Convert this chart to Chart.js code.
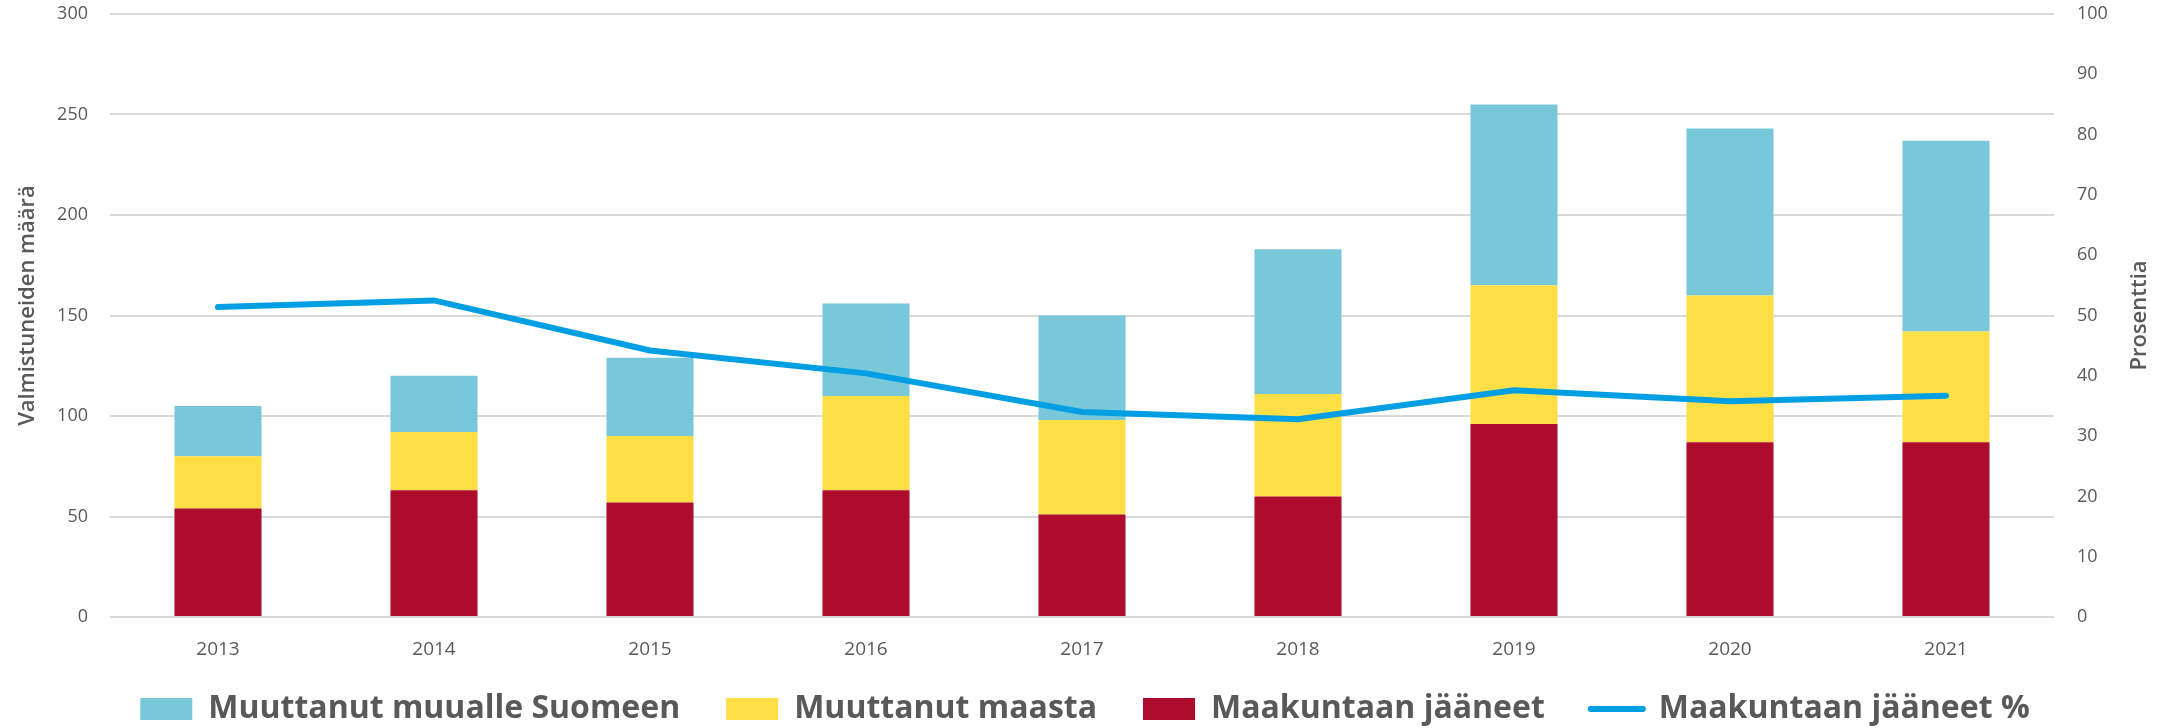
<!DOCTYPE html>
<html>
<head>
<meta charset="utf-8">
<script src="https://cdn.jsdelivr.net/npm/chart.js@4"></script>
<style>
  html, body { margin: 0; padding: 0; background: #ffffff; }
  #wrap { width: 2170px; height: 728px; }
</style>
</head>
<body>
<div id="wrap"><canvas id="c" width="2170" height="728"></canvas></div>
<script>
const years = ['2013', '2014', '2015', '2016', '2017', '2018', '2019', '2020', '2021'];
const maakuntaanJaaneet = [54, 63, 57, 63, 51, 60, 96, 87, 87];
const muuttanutMaasta = [26, 29, 33, 47, 47, 51, 69, 73, 55];
const muuttanutMuualle = [25, 28, 39, 46, 52, 72, 90, 83, 95];
const jaaneetProsentti = [51.4, 52.5, 44.2, 40.4, 34.0, 32.8, 37.6, 35.8, 36.7];
const leftTicks = [0, 50, 100, 150, 200, 250, 300];
const rightTicks = [0, 10, 20, 30, 40, 50, 60, 70, 80, 90, 100];

const labelNames = {
  muualle: 'Muuttanut muualle Suomeen',
  maasta: 'Muuttanut maasta',
  jaaneet: 'Maakuntaan jääneet',
  pros: 'Maakuntaan jääneet %'
};
const leftTitle = 'Valmistuneiden määrä';
const rightTitle = 'Prosenttia';

const textColor = '#595959';
const gridColor = '#D9D9D9';
const legendFontSize = 32;
const legendPadding = 46;

const axisTitles = {
  id: 'axisTitles',
  afterLayout(chart) {
    const lg = chart.legend;
    if (lg) {
      const h = lg.height;
      lg.top = 709 - legendPadding - legendFontSize / 2;
      lg.bottom = lg.top + h;
    }
  },
  afterDraw(chart) {
    const ctx = chart.ctx;
    const area = chart.chartArea;
    const cy = (area.top + area.bottom) / 2;
    ctx.save();
    ctx.fillStyle = textColor;
    ctx.font = '600 22px "Open Sans"';
    ctx.textAlign = 'center';
    ctx.textBaseline = 'middle';
    ctx.translate(28, cy - 10);
    ctx.rotate(-Math.PI / 2);
    ctx.fillText(leftTitle, 0, 0);
    ctx.restore();
    ctx.save();
    ctx.fillStyle = textColor;
    ctx.font = '600 22px "Open Sans"';
    ctx.textAlign = 'center';
    ctx.textBaseline = 'middle';
    ctx.translate(2140, cy);
    ctx.rotate(-Math.PI / 2);
    ctx.fillText(rightTitle, 0, 0);
    ctx.restore();
  }
};

const order = [2, 1, 0, 3];

new Chart(document.getElementById('c'), {
  data: {
    labels: years,
    datasets: [
      { type: 'bar', label: labelNames.jaaneet, data: maakuntaanJaaneet, backgroundColor: '#AE0C2C', yAxisID: 'y', stack: 's', pointStyle: 'rect', barPercentage: 0.403, categoryPercentage: 1.0, order: 1 },
      { type: 'bar', label: labelNames.maasta, data: muuttanutMaasta, backgroundColor: '#FFDF46', yAxisID: 'y', stack: 's', pointStyle: 'rect', barPercentage: 0.403, categoryPercentage: 1.0, order: 1 },
      { type: 'bar', label: labelNames.muualle, data: muuttanutMuualle, backgroundColor: '#78C8DA', yAxisID: 'y', stack: 's', pointStyle: 'rect', barPercentage: 0.403, categoryPercentage: 1.0, order: 1 },
      { type: 'line', label: labelNames.pros, data: jaaneetProsentti, borderColor: '#009FE3', backgroundColor: '#009FE3', borderWidth: 6, pointRadius: 0, pointStyle: 'line', tension: 0, yAxisID: 'y1', borderCapStyle: 'round', borderJoinStyle: 'miter', order: 0 }
    ]
  },
  options: {
    responsive: false,
    animation: false,
    devicePixelRatio: 1,
    layout: { padding: { top: 14, bottom: -27, left: 0, right: 0 } },
    plugins: {
      tooltip: { enabled: false },
      legend: {
        position: 'bottom',
        align: 'center',
        labels: {
          usePointStyle: true,
          pointStyleWidth: 52,
          boxHeight: 22,
          padding: legendPadding,
          color: textColor,
          font: { family: '"Open Sans"', size: legendFontSize, weight: '700' },
          sort: (a, b) => order[a.datasetIndex] - order[b.datasetIndex],
          generateLabels(chart) {
            const items = Chart.defaults.plugins.legend.labels.generateLabels(chart);
            items.forEach(it => {
              if (it.datasetIndex === 3) {
                it.pointStyle = 'line';
                it.lineWidth = 6;
                it.lineCap = 'round';
                it.strokeStyle = '#009FE3';
              } else {
                it.pointStyle = 'rect';
                it.lineWidth = 0;
              }
            });
            return items;
          }
        }
      }
    },
    scales: {
      x: {
        stacked: true,
        grid: { display: false },
        border: { display: false },
        ticks: { color: textColor, font: { family: '"Open Sans"', size: 19 }, padding: 13, maxRotation: 0, autoSkip: false },
        afterFit(scale) { scale.height = 50; scale.paddingLeft = 0; scale.paddingRight = 0; }
      },
      y: {
        position: 'left',
        stacked: true,
        min: leftTicks[0],
        max: leftTicks[leftTicks.length - 1],
        grid: { color: gridColor, lineWidth: 2, drawTicks: false },
        border: { display: false },
        afterBuildTicks(scale) { scale.ticks = leftTicks.map(v => ({ value: v })); },
        ticks: { color: textColor, font: { family: '"Open Sans"', size: 18 }, padding: 22 },
        afterFit(scale) { scale.width = 110; scale.paddingTop = 0; scale.paddingBottom = 0; }
      },
      y1: {
        position: 'right',
        min: rightTicks[0],
        max: rightTicks[rightTicks.length - 1],
        grid: { display: false, drawTicks: false },
        border: { display: false },
        afterBuildTicks(scale) { scale.ticks = rightTicks.map(v => ({ value: v })); },
        ticks: { color: textColor, font: { family: '"Open Sans"', size: 18 }, padding: 23 },
        afterFit(scale) { scale.width = 116; scale.paddingTop = 0; scale.paddingBottom = 0; }
      }
    }
  },
  plugins: [axisTitles]
});
</script>
</body>
</html>
